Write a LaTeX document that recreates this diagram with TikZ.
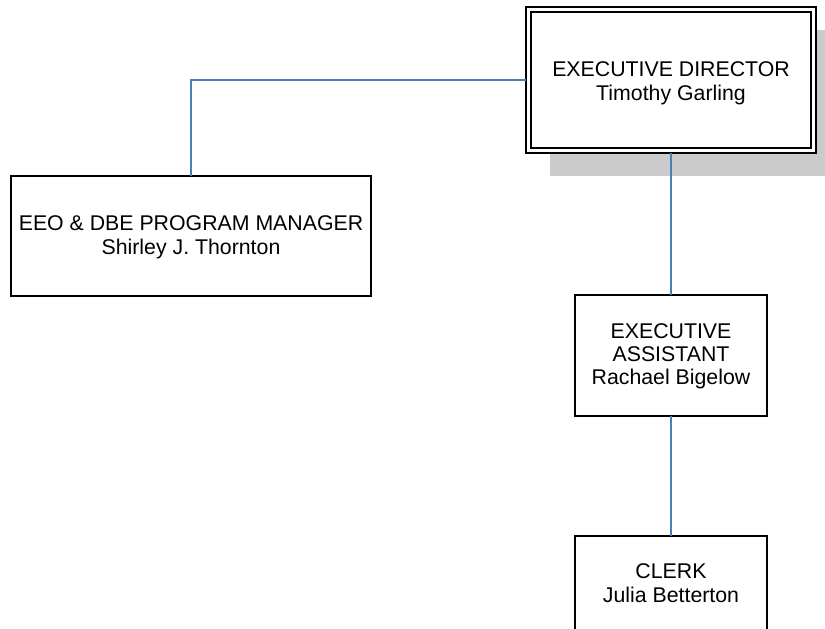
\documentclass[tikz,border=0pt]{standalone}
\usepackage{fontspec}
\setmainfont{Liberation Sans}
\definecolor{linkblue}{HTML}{4A7EBB}
\definecolor{shadowgray}{HTML}{CBCBCB}
\begin{document}
\begin{tikzpicture}[x=1pt,y=-1pt,
  orgbox/.style={draw=black,line width=2pt,fill=white,rectangle,inner sep=0pt,outer sep=0pt},
  orgtext/.style={align=center,inner sep=0pt,font=\fontsize{21.3}{24}\selectfont},
  link/.style={draw=linkblue,line width=2pt}]
\clip (0,0) rectangle (825,629);
\fill[white] (0,0) rectangle (825,629);

% Executive director: drop shadow, double frame
\fill[shadowgray] (550,30) rectangle (840,176);
\node[orgbox,line width=2.5pt,minimum width=290pt,minimum height=146pt] (exec) at (671,80) {};
\node[draw=black,line width=1.5pt,rectangle,inner sep=0pt,minimum width=280pt,minimum height=136pt] (execinner) at (671,80) {};
\node[orgtext] (exectext) at (671,82.8) {EXECUTIVE DIRECTOR\\Timothy Garling};

% EEO & DBE program manager
\node[orgbox,minimum width=360pt,minimum height=120pt] (eeo) at (191,236) {};
\node[orgtext] (eeotext) at (191,237) {EEO \& DBE PROGRAM MANAGER\\Shirley J. Thornton};

% Executive assistant
\node[orgbox,minimum width=192pt,minimum height=121pt] (asst) at (671,355.5) {};
\node[orgtext,font=\fontsize{21.3}{23}\selectfont] (assttext) at (671,356.5) {EXECUTIVE\\ASSISTANT\\Rachael Bigelow};

% Clerk
\node[orgbox,minimum width=192pt,minimum height=150pt] (clerk) at (671,611) {};
\node[orgtext] (clerktext) at (671,583) {CLERK\\Julia Betterton};

% Reporting lines
\draw[link] (exec.west) -| (eeo.north);
\draw[link] (exec.south) -- (asst.north);
\draw[link] (asst.south) -- (clerk.north);
\end{tikzpicture}
\end{document}
